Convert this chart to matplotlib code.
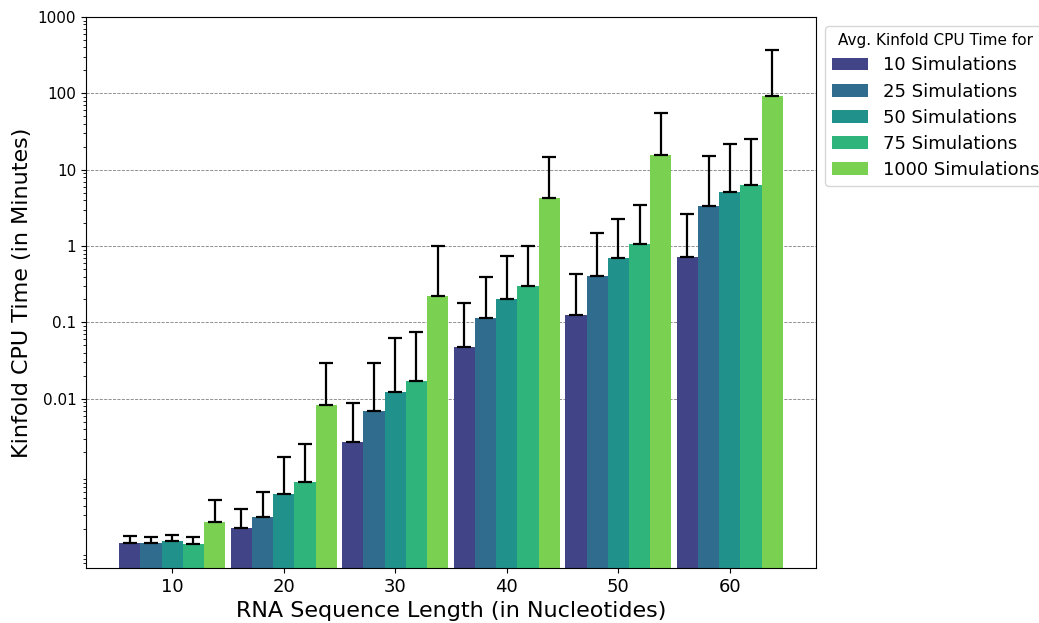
import numpy as np
from matplotlib import pyplot as plt

lengths = [10, 20, 30, 40, 50, 60]
series = ["10 Simulations", "25 Simulations", "50 Simulations",
          "75 Simulations", "1000 Simulations"]

# average CPU time (minutes), one list per simulation count
avg_10 = [1.31e-4, 2.05e-4, 2.74e-3, 0.0475, 0.125, 0.716]
avg_25 = [1.31e-4, 2.83e-4, 6.97e-3, 0.116, 0.407, 3.36]
avg_50 = [1.38e-4, 5.7e-4, 0.0124, 0.202, 0.695, 5.12]
avg_75 = [1.26e-4, 8.1e-4, 0.0173, 0.301, 1.05, 6.38]
avg_1000 = [2.45e-4, 8.27e-3, 0.225, 4.21, 15.8, 91.8]

# top of the error bars
top_10 = [1.58e-4, 3.56e-4, 8.86e-3, 0.181, 0.432, 2.67]
top_25 = [1.57e-4, 6.0e-4, 0.0293, 0.395, 1.47, 15.3]
top_50 = [1.66e-4, 1.71e-3, 0.0628, 0.733, 2.25, 21.8]
top_75 = [1.53e-4, 2.55e-3, 0.0753, 1.0, 3.46, 25.0]
top_1000 = [4.8e-4, 0.0298, 1.0, 14.6, 56.0, 374.0]

moyennes = [avg_10, avg_25, avg_50, avg_75, avg_1000]
hauts = [top_10, top_25, top_50, top_75, top_1000]

couleurs = plt.cm.viridis(np.linspace(0.2, 0.8, 5))

fig = plt.figure(figsize=(10.39, 6.23), dpi=100)
ax = fig.add_axes([0.0828, 0.0883, 0.7026, 0.8844])

x = np.arange(len(lengths))
largeur = 0.19
for i, (nom, moy, haut) in enumerate(zip(series, moyennes, hauts)):
    moy = np.array(moy)
    err = np.array(haut) - moy
    ax.bar(x + (i - 2) * largeur, moy, width=largeur, color=couleurs[i],
           label=nom, yerr=[np.zeros_like(moy), err], capsize=5,
           error_kw=dict(ecolor='black', elinewidth=1.6, capthick=1.6))

ax.set_yscale('log')
ax.set_ylim(6.1e-5, 1000)
ax.set_yticks([0.01, 0.1, 1, 10, 100, 1000])
ax.set_yticklabels(['0.01', '0.1', '1', '10', '100', '1000'], fontsize=11)
ax.set_xticks(x)
ax.set_xticklabels([str(l) for l in lengths], fontsize=13)
ax.yaxis.grid(True, which='major', linestyle='--', color='gray', linewidth=0.6)
ax.set_axisbelow(True)

ax.set_xlabel("RNA Sequence Length (in Nucleotides)", fontsize=16)
ax.set_ylabel("Kinfold CPU Time (in Minutes)", fontsize=16)

ax.legend(title="Avg. Kinfold CPU Time for", fontsize=13, title_fontsize=11,
          loc='upper left', bbox_to_anchor=(1.0, 1.0), labelspacing=0.45)

fig.savefig('out.png', dpi=100)
